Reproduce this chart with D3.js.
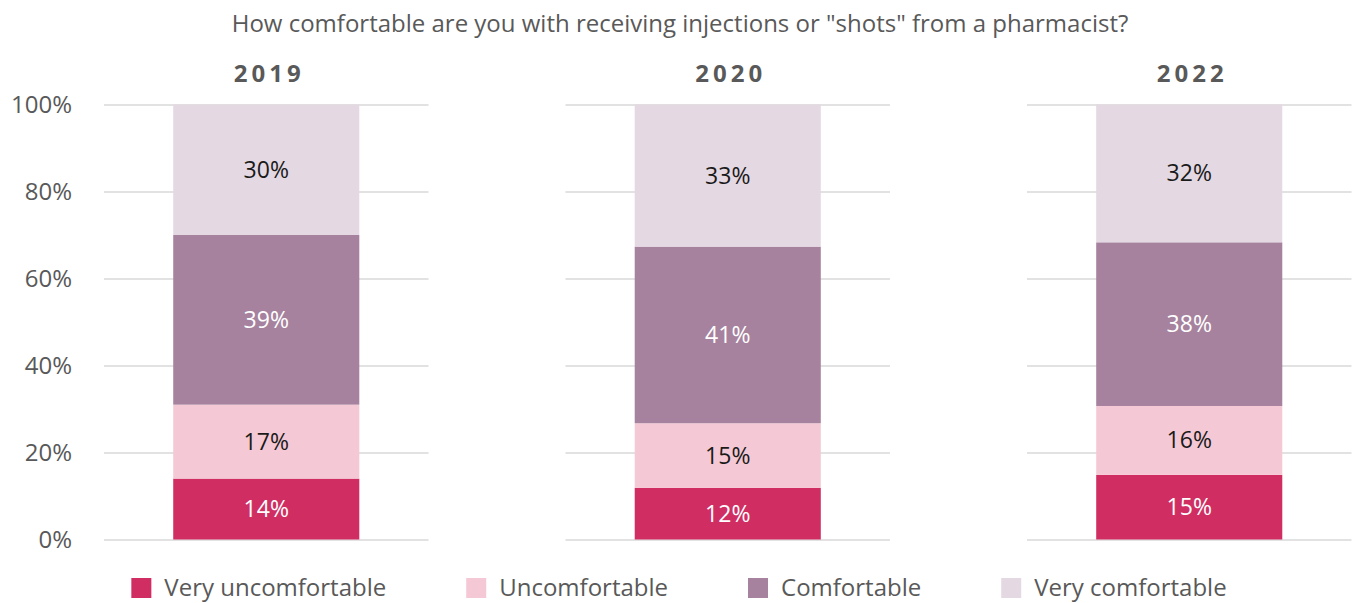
<!DOCTYPE html>
<html>
<head>
<meta charset="utf-8">
<script src="https://cdn.jsdelivr.net/npm/d3@7"></script>
<style>
  html, body { margin: 0; padding: 0; background: #fff; }
  svg { display: block; font-family: "Open Sans", sans-serif; }
</style>
</head>
<body>
<svg id="chart" width="1353" height="603"></svg>
<script>
// Survey responses by year (percent of respondents)
const years = ["2019", "2020", "2022"];
const categories = ["Very uncomfortable", "Uncomfortable", "Comfortable", "Very comfortable"];
const veryUncomfortable = [14, 12, 15];
const uncomfortable     = [17, 15, 16];
const comfortable       = [39, 41, 38];
const veryComfortable   = [30, 33, 32];
const yTicks = [0, 0.2, 0.4, 0.6, 0.8, 1];
const title = 'How comfortable are you with receiving injections or "shots" from a pharmacist?';

const colors = ["#d02d63", "#f4c9d5", "#a6829e", "#e4d8e2"];
const labelColors = ["#ffffff", "#1a1a1a", "#ffffff", "#1a1a1a"];
const textGrey = "#595959";

const rows = years.map((y, i) => ({
  year: y,
  "Very uncomfortable": veryUncomfortable[i],
  "Uncomfortable": uncomfortable[i],
  "Comfortable": comfortable[i],
  "Very comfortable": veryComfortable[i]
}));

// Each bar fills 0–100%
const series = d3.stack()
  .keys(categories)
  .offset(d3.stackOffsetExpand)(rows);

const svg = d3.select("#chart");

const panel = d3.scaleBand().domain(years).range([104, 1351.5]).paddingInner(0.2968);
const y = d3.scaleLinear().domain([0, 1]).range([539.5, 104.5]);
const barX = d3.scaleBand().domain(["bar"]).range([0, panel.bandwidth()]).paddingInner(0).paddingOuter(0.372);

// Title
svg.append("text")
  .attr("x", 680).attr("y", 32)
  .attr("text-anchor", "middle")
  .attr("fill", textGrey)
  .style("font-size", "24px")
  .text(title);

// Y axis (left panel only)
const yAxis = d3.axisLeft(y).tickValues(yTicks).tickFormat(d3.format(".0%")).tickSize(0).tickPadding(0);
const yg = svg.append("g").attr("transform", "translate(72,0)").call(yAxis);
yg.select(".domain").remove();
yg.selectAll("text")
  .attr("fill", textGrey)
  .style("font-size", "24px")
  .style("font-family", '"Open Sans", sans-serif')
  .attr("dy", "0.35em");

// Panels
const panels = svg.selectAll("g.panel")
  .data(years)
  .join("g")
  .attr("class", "panel")
  .attr("transform", d => `translate(${panel(d)},0)`);

// Gridlines
panels.each(function () {
  const g = d3.select(this);
  const grid = d3.axisLeft(y).tickValues(yTicks).tickSize(-panel.bandwidth()).tickFormat("");
  const gg = g.append("g").call(grid);
  gg.select(".domain").remove();
  gg.selectAll("line").attr("stroke", "#d9d9d9").attr("stroke-width", 1.5);
});

// Year headers
panels.append("text")
  .attr("x", panel.bandwidth() / 2 + 3)
  .attr("y", 82)
  .attr("text-anchor", "middle")
  .attr("fill", textGrey)
  .style("font-size", "24px")
  .style("font-weight", "bold")
  .style("letter-spacing", "4px")
  .text(d => d);

// Stacked segments
panels.each(function (year, yi) {
  const g = d3.select(this);
  series.forEach((s, si) => {
    const d = s[yi];
    g.append("rect")
      .attr("x", barX("bar"))
      .attr("width", barX.bandwidth())
      .attr("y", y(d[1]))
      .attr("height", y(d[0]) - y(d[1]))
      .attr("fill", colors[si]);
    g.append("text")
      .attr("x", barX("bar") + barX.bandwidth() / 2)
      .attr("y", (y(d[0]) + y(d[1])) / 2)
      .attr("dy", "0.35em")
      .attr("text-anchor", "middle")
      .attr("fill", labelColors[si])
      .style("font-size", "23px")
      .text(d.data[s.key] + "%");
  });
});

// Legend
const legend = svg.append("g").attr("class", "legend");
const items = legend.selectAll("g.item").data(categories).join("g").attr("class", "item");
items.append("rect").attr("width", 20).attr("height", 20).attr("y", -10).attr("fill", (d, i) => colors[i]);
items.append("text")
  .attr("x", 33)
  .attr("dy", "0.35em")
  .attr("fill", textGrey)
  .style("font-size", "24px")
  .text(d => d);
let cursor = 0;
items.each(function () {
  const w = d3.select(this).select("text").node().getComputedTextLength();
  d3.select(this).attr("transform", `translate(${cursor},0)`);
  cursor += 33 + w + 80;
});
const total = cursor - 80;
legend.attr("transform", `translate(${679 - total / 2},588)`);
</script>
</body>
</html>
